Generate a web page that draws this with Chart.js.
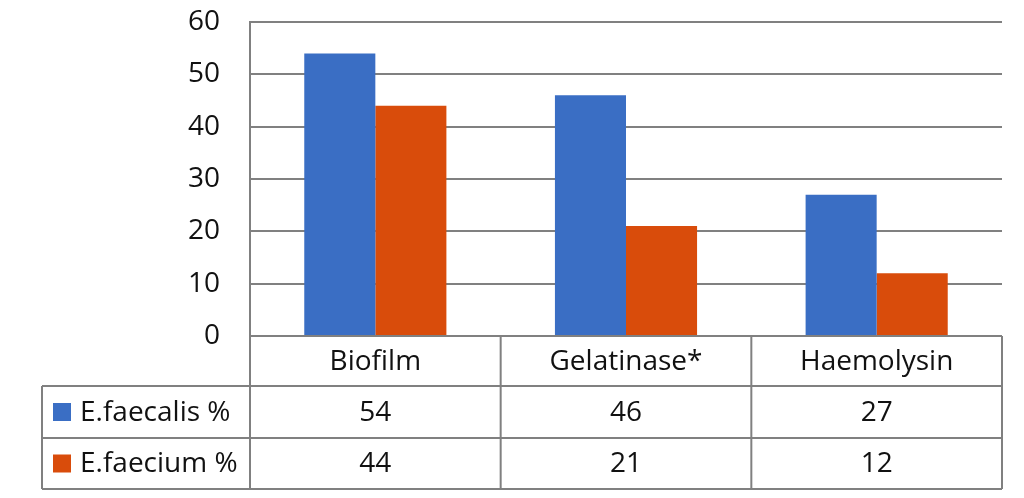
<!DOCTYPE html>
<html>
<head>
<meta charset="utf-8">
<script src="https://cdn.jsdelivr.net/npm/chart.js@4/dist/chart.umd.min.js"></script>
<style>
  html, body { margin: 0; padding: 0; background: #fff; }
  #wrap { width: 1024px; height: 498px; }
</style>
</head>
<body>
<div id="wrap"><canvas id="chart"></canvas></div>
<script>
const categories = ['Biofilm', 'Gelatinase*', 'Haemolysin'];
const seriesNames = ['E.faecalis %', 'E.faecium %'];
const faecalis = [54, 46, 27];
const faecium = [44, 21, 12];
const seriesColors = ['#3a6ec4', '#d94c0b'];

const FONT = '"Open Sans", "Noto Sans", sans-serif';
const FONT_SIZE = 28;
const LINE = '#808080';
const TEXT = '#111111';

// draws the Excel-style data table under the plot area
const dataTable = {
    id: 'dataTable',
    afterDraw(chart) {
        const ctx = chart.ctx;
        const x = chart.scales.x;
        const area = chart.chartArea;
        const n = chart.data.labels.length;
        const colW = (area.right - area.left) / n;
        const top = area.bottom;
        const rowH = [50, 52, 51];
        const rows = [top, top + rowH[0], top + rowH[0] + rowH[1], top + rowH[0] + rowH[1] + rowH[2]];
        const tableLeft = 42;

        ctx.save();
        ctx.strokeStyle = LINE;
        ctx.lineWidth = 2;
        ctx.beginPath();
        ctx.moveTo(area.left, rows[0]); ctx.lineTo(area.right, rows[0]);
        for (let r = 1; r < rows.length; r++) {
            ctx.moveTo(tableLeft, rows[r]); ctx.lineTo(area.right, rows[r]);
        }
        for (let c = 0; c <= n; c++) {
            const cx = area.left + c * colW;
            ctx.moveTo(cx, rows[0]); ctx.lineTo(cx, rows[3]);
        }
        ctx.moveTo(tableLeft, rows[1]); ctx.lineTo(tableLeft, rows[3]);
        ctx.stroke();

        ctx.fillStyle = TEXT;
        ctx.font = FONT_SIZE + 'px ' + FONT;
        ctx.textAlign = 'center';
        ctx.textBaseline = 'middle';
        chart.data.labels.forEach((lab, i) => {
            ctx.fillText(lab, x.getPixelForValue(i), (rows[0] + rows[1]) / 2 + 1);
        });

        chart.data.datasets.forEach((ds, d) => {
            const cy = (rows[d + 1] + rows[d + 2]) / 2;
            ctx.fillStyle = ds.backgroundColor;
            ctx.fillRect(53, cy - 9, 18, 18);
            ctx.fillStyle = TEXT;
            ctx.textAlign = 'left';
            ctx.fillText(ds.label, 80, cy + 1);
            ctx.textAlign = 'center';
            ds.data.forEach((v, i) => {
                ctx.fillText(String(v), x.getPixelForValue(i), cy + 1);
            });
        });
        ctx.restore();
    }
};

new Chart(document.getElementById('chart'), {
    type: 'bar',
    data: {
        labels: categories,
        datasets: [
            { label: seriesNames[0], data: faecalis, backgroundColor: seriesColors[0] },
            { label: seriesNames[1], data: faecium, backgroundColor: seriesColors[1] }
        ]
    },
    options: {
        responsive: true,
        maintainAspectRatio: false,
        animation: false,
        datasets: {
            bar: { barPercentage: 1, categoryPercentage: 0.567 }
        },
        layout: { padding: { left: 0, right: 22, top: 22, bottom: 9 } },
        plugins: {
            legend: { display: false },
            tooltip: { enabled: false }
        },
        scales: {
            x: {
                grid: { display: false },
                border: { display: false },
                ticks: { display: false },
                afterFit(scale) { scale.height = 153; }
            },
            y: {
                min: 0,
                max: 60,
                ticks: {
                    stepSize: 10,
                    color: TEXT,
                    padding: 0,
                    font: { family: FONT, size: FONT_SIZE }
                },
                // transparent ticks keep the labels away from the axis without extra top padding
                grid: { color: LINE, lineWidth: 2, drawTicks: true, tickLength: 30, tickColor: 'rgba(0,0,0,0)' },
                border: { display: true, color: LINE, width: 2 },
                afterFit(scale) { scale.width = 250; }
            }
        }
    },
    plugins: [dataTable]
});
</script>
</body>
</html>
